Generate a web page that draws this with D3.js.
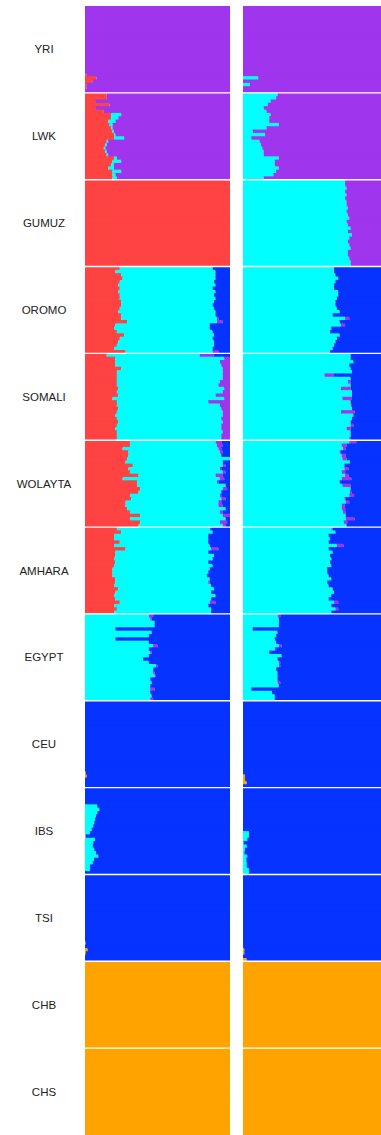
<!DOCTYPE html>
<html>
<head>
<meta charset="utf-8">
<script src="https://cdn.jsdelivr.net/npm/d3@7"></script>
<style>
  html, body { margin: 0; padding: 0; background: #fff; }
  svg { display: block; }
</style>
</head>
<body>
<svg id="chart"></svg>
<script>
// population labels, top to bottom
const popNames = ["YRI", "LWK", "GUMUZ", "OROMO", "SOMALI", "WOLAYTA", "AMHARA",
  "EGYPT", "CEU", "IBS", "TSI", "CHB", "CHS"];

const ancestryColors = {
  orange: "#ffa300",
  red: "#ff4242",
  cyan: "#00ffff",
  purple: "#a035ee",
  blue: "#0633ff",
};

// left panel: [orange, red, cyan, purple, blue] in %
const leftKeys = ["orange", "red", "cyan", "purple", "blue"];

const yriLeft = [
  [0,0,0,100,0],[0,0,0,100,0],[0,0,0,100,0],[0,0,0,100,0],[0,0,0,100,0],[0,0,0,100,0],
  [0,0,0,100,0],[0,0,0,100,0],[0,0,0,100,0],[0,0,0,100,0],[0,0,0,100,0],[0,0,0,100,0],
  [0,0,0,100,0],[0,0,0,100,0],[0,0,0,100,0],[0,0,0,100,0],[0,0,0,100,0],[0,0,0,100,0],
  [0,0,0,100,0],[0,0,0,100,0],[0,1,0,99,0],[0,8,0,92,0],[0,5,0,95,0],[0,1,0,99,0],
  [0,1,0,99,0],[0,0,0,100,0]
];
const lwkLeft = [
  [0,15,0,85,0],[0,15,0,85,0],[0,7,0,93,0],[0,17,0,83,0],[0,7,0,93,0],[0,13,0,87,0],
  [0,18,7,75,0],[0,18,5,77,0],[0,16,5,79,0],[0,17,2,81,0],[0,18,1,81,0],[0,19,1,80,0],
  [0,20,1,79,0],[0,20,7,73,0],[0,15,1,84,0],[0,14,1,85,0],[0,13,1,86,0],[0,14,1,85,0],
  [0,15,1,84,0],[0,20,2,78,0],[0,19,6,75,0],[0,18,2,80,0],[0,16,4,80,0],[0,19,6,75,0],
  [0,19,2,79,0],[0,19,3,78,0]
];
const gumuzLeft = [
  [0,100,0,0,0],[0,100,0,0,0],[0,100,0,0,0],[0,100,0,0,0],[0,100,0,0,0],[0,100,0,0,0],
  [0,100,0,0,0],[0,100,0,0,0],[0,100,0,0,0],[0,100,0,0,0],[0,100,0,0,0],[0,100,0,0,0],
  [0,100,0,0,0],[0,100,0,0,0],[0,100,0,0,0],[0,100,0,0,0],[0,100,0,0,0],[0,100,0,0,0],
  [0,100,0,0,0],[0,100,0,0,0],[0,100,0,0,0],[0,100,0,0,0],[0,100,0,0,0],[0,100,0,0,0],
  [0,100,0,0,0],[0,100,0,0,0]
];
const oromoLeft = [
  [0,24,64,0,12],[0,21,69,0,10],[0,25,65,0,10],[0,26,64,0,10],[0,24,65,0,11],[0,23,67,0,10],
  [0,24,64,0,12],[0,23,67,0,10],[0,24,65,0,11],[0,24,66,0,10],[0,25,64,0,11],[0,25,63,0,12],
  [0,24,65,0,11],[0,23,67,0,10],[0,25,65,0,10],[0,25,66,1,8],[0,29,62,4,5],[0,21,65,0,14],
  [0,20,66,0,14],[0,22,66,0,12],[0,27,62,0,11],[0,24,64,0,12],[0,23,66,0,11],[0,22,67,0,11],
  [0,20,68,0,12],[0,28,60,4,8]
];
const somaliLeft = [
  [0,15,64,10,11],[0,21,75,4,0],[0,21,72,7,0],[0,21,73,6,0],[0,25,70,5,0],[0,22,73,5,0],
  [0,22,73,5,0],[0,22,73,5,0],[0,22,71,7,0],[0,22,70,8,0],[0,23,73,4,0],[0,22,73,5,0],
  [0,23,67,10,0],[0,19,77,4,0],[0,22,63,15,0],[0,22,71,7,0],[0,23,71,6,0],[0,22,73,5,0],
  [0,21,74,5,0],[0,22,72,6,0],[0,23,72,5,0],[0,22,72,6,0],[0,21,73,6,0],[0,22,73,5,0],
  [0,22,72,6,0],[0,22,72,6,0]
];
const wolaytaLeft = [
  [0,31,59,4,6],[0,31,60,4,5],[0,26,66,2,6],[0,30,63,2,5],[0,30,64,0,6],[0,29,71,0,0],
  [0,28,67,0,5],[0,33,62,2,3],[0,30,63,1,6],[0,31,64,2,3],[0,37,53,5,5],[0,26,67,3,4],
  [0,36,55,1,8],[0,36,61,0,3],[0,38,57,3,2],[0,37,57,0,6],[0,31,62,1,6],[0,32,62,3,3],
  [0,28,64,2,6],[0,28,64,3,5],[0,29,68,0,3],[0,31,62,2,5],[0,38,57,5,0],[0,31,66,0,3],
  [0,38,55,5,2],[0,37,58,2,3]
];
const amharaLeft = [
  [0,22,64,1,13],[0,25,63,0,12],[0,20,65,0,15],[0,20,65,0,15],[0,24,61,0,15],[0,20,66,0,14],
  [0,28,59,5,8],[0,21,64,0,15],[0,21,68,0,11],[0,20,68,0,12],[0,21,64,0,15],[0,20,68,0,12],
  [0,19,67,0,14],[0,19,66,0,15],[0,19,65,0,16],[0,21,65,0,14],[0,21,64,1,14],[0,20,67,0,13],
  [0,23,66,0,11],[0,21,66,0,13],[0,20,70,0,10],[0,21,66,0,13],[0,24,62,4,10],[0,20,65,0,15],
  [0,22,65,0,13],[0,20,67,0,13]
];
const egyptLeft = [
  [0,0,44,3,53],[0,0,45,1,54],[0,0,48,0,52],[0,0,48,0,52],[0,0,21,0,79],[0,0,46,0,54],
  [0,0,44,0,56],[0,0,21,0,79],[0,0,44,0,56],[0,0,47,3,50],[0,0,44,0,56],[0,0,45,1,54],
  [0,0,44,0,56],[0,0,40,0,60],[0,0,44,0,56],[0,0,49,1,50],[0,0,47,0,53],[0,0,47,1,52],
  [0,0,48,1,51],[0,0,45,0,55],[0,0,46,0,54],[0,0,45,0,55],[0,0,45,3,52],[0,0,45,0,55],
  [0,0,46,0,54],[0,0,45,2,53]
];
const ceuLeft = [
  [0,0,0,0,100],[0,0,0,0,100],[0,0,0,0,100],[0,0,0,0,100],[0,0,0,0,100],[0,0,0,0,100],
  [0,0,0,0,100],[0,0,0,0,100],[0,0,0,0,100],[0,0,0,0,100],[0,0,0,0,100],[0,0,0,0,100],
  [0,0,0,0,100],[0,0,0,0,100],[0,0,0,0,100],[0,0,0,0,100],[0,0,0,0,100],[0,0,0,0,100],
  [0,0,0,0,100],[0,0,0,0,100],[0,0,0,0,100],[0.5,0,0,0,99.5],[1.2,0,0,0,98.8],[0,0,0,0,100],
  [0,0,0,0,100],[0,0,0,0,100]
];
const ibsLeft = [
  [0,0,0,0,100],[0,0,0,0,100],[0,0,0,0,100],[0,0,0,0,100],[0,0,0,0,100],[0,0,8.5,0,91.5],
  [0,0,9.9,0,90.1],[0,0,8.5,0,91.5],[0,0,7.6,0,92.4],[0,0,6.9,0,93.1],[0,0,6.4,0,93.6],[0,0,5.7,0,94.3],
  [0,0,4.6,0,95.4],[0,0,3.4,0,96.6],[0.5,0,0,0,99.5],[0,0,6.9,0,93.1],[0,0,5.7,0,94.3],[0,0,5.3,0,94.7],
  [0,0,6.4,0,93.6],[0,0,7.6,0,92.4],[0,0,9.2,0,90.8],[0,0,6.2,0,93.8],[0,0,5.3,0,94.7],[0,0,3.4,0,96.6],
  [0,0,3.4,0,96.6],[0,0,0,0,100]
];
const tsiLeft = [
  [0,0,0,0,100],[0,0,0,0,100],[0,0,0,0,100],[0,0,0,0,100],[0,0,0,0,100],[0,0,0,0,100],
  [0,0,0,0,100],[0,0,0,0,100],[0,0,0,0,100],[0,0,0,0,100],[0,0,0,0,100],[0,0,0,0,100],
  [0,0,0,0,100],[0,0,0,0,100],[0,0,0,0,100],[0,0,0,0,100],[0,0,0,0,100],[0,0,0,0,100],
  [0,0,0,0,100],[0,0,0,0,100],[0.5,0,0,0,99.5],[0,0,0,0,100],[1.8,0,0,0,98.2],[0.5,0,0,0,99.5],
  [0,0,0,0,100],[0,0,0,0,100]
];
const chbLeft = [
  [100,0,0,0,0],[100,0,0,0,0],[100,0,0,0,0],[100,0,0,0,0],[100,0,0,0,0],[100,0,0,0,0],
  [100,0,0,0,0],[100,0,0,0,0],[100,0,0,0,0],[100,0,0,0,0],[100,0,0,0,0],[100,0,0,0,0],
  [100,0,0,0,0],[100,0,0,0,0],[100,0,0,0,0],[100,0,0,0,0],[100,0,0,0,0],[100,0,0,0,0],
  [100,0,0,0,0],[100,0,0,0,0],[100,0,0,0,0],[100,0,0,0,0],[100,0,0,0,0],[100,0,0,0,0],
  [100,0,0,0,0],[100,0,0,0,0]
];
const chsLeft = [
  [100,0,0,0,0],[100,0,0,0,0],[100,0,0,0,0],[100,0,0,0,0],[100,0,0,0,0],[100,0,0,0,0],
  [100,0,0,0,0],[100,0,0,0,0],[100,0,0,0,0],[100,0,0,0,0],[100,0,0,0,0],[100,0,0,0,0],
  [100,0,0,0,0],[100,0,0,0,0],[100,0,0,0,0],[100,0,0,0,0],[100,0,0,0,0],[100,0,0,0,0],
  [100,0,0,0,0],[100,0,0,0,0],[100,0,0,0,0],[100,0,0,0,0],[100,0,0,0,0],[100,0,0,0,0],
  [100,0,0,0,0],[100,0,0,0,0]
];

// right panel: [orange, cyan, purple, blue] in %
const rightKeys = ["orange", "cyan", "purple", "blue"];

const yriRight = [
  [0,0,100,0],[0,0,100,0],[0,0,100,0],[0,0,100,0],[0,0,100,0],[0,0,100,0],
  [0,0,100,0],[0,0,100,0],[0,0,100,0],[0,0,100,0],[0,0,100,0],[0,0,100,0],
  [0,0,100,0],[0,0,100,0],[0,0,100,0],[0,0,100,0],[0,0,100,0],[0,0,100,0],
  [0,0,100,0],[0,0,100,0],[0,0,100,0],[0,11,89,0],[0,0,100,0],[0,5,95,0],
  [0,0,100,0],[0,0,100,0]
];
const lwkRight = [
  [0,25,75,0],[0,24,76,0],[0,20,80,0],[0,18,82,0],[0,15,85,0],[0,17,83,0],
  [0,20,80,0],[0,19,81,0],[0,19,81,0],[0,26,74,0],[0,17,83,0],[0,7,93,0],
  [0,16,84,0],[0,6,94,0],[0,12,88,0],[0,13,87,0],[0,14,86,0],[0,15,85,0],
  [0,15,85,0],[0,26,74,0],[0,23,77,0],[0,23,77,0],[0,26,74,0],[0,24,76,0],
  [0,22,78,0],[0,15,85,0]
];
const gumuzRight = [
  [0,74,26,0],[0,74,26,0],[0,75,25,0],[0,74,26,0],[0,75,25,0],[0,74,26,0],
  [0,75,25,0],[0,75,25,0],[0,76,24,0],[0,75,25,0],[0,76,24,0],[0,77,23,0],
  [0,75,25,0],[0,76,24,0],[0,78,22,0],[0,76,24,0],[0,79,21,0],[0,77,23,0],
  [0,76,24,0],[0,77,23,0],[0,78,22,0],[0,76,24,0],[0,76,24,0],[0,77,23,0],
  [0,78,22,0],[0,78,22,0]
];
const oromoRight = [
  [0,66,0,34],[0,66,0,34],[0,67,0,33],[0,69,0,31],[0,67,0,33],[0,66,0,34],
  [0,66,0,34],[0,69,0,31],[0,69,0,31],[0,68,0,32],[0,67,0,33],[0,67,0,33],
  [0,68,0,32],[0,70,0,30],[0,65,0,35],[0,74,3,23],[0,70,0,30],[0,71,3,26],
  [0,64,0,36],[0,63,0,37],[0,70,0,30],[0,68,0,32],[0,67,0,33],[0,66,0,34],
  [0,65,0,35],[0,63,0,37]
];
const somaliRight = [
  [0,78,0,22],[0,78,0,22],[0,80,0,20],[0,77,0,23],[0,78,0,22],[0,79,0,21],
  [0,59,7,34],[0,78,0,22],[0,76,2,22],[0,78,0,22],[0,71,7,22],[0,79,0,21],
  [0,79,0,21],[0,72,7,21],[0,78,0,22],[0,78,1,21],[0,79,0,21],[0,71,10,19],
  [0,80,0,20],[0,79,0,21],[0,78,0,22],[0,78,2,20],[0,75,3,22],[0,78,0,22],
  [0,78,0,22],[0,77,1,22]
];
const wolaytaRight = [
  [0,77,5,18],[0,71.5,3.5,25],[0,72.5,2,25.5],[0,70,1,29],[0,71.5,3,25.5],[0,72,3,25],
  [0,77.5,0,22.5],[0,73.5,0,26.5],[0,73.5,3,23.5],[0,71.5,2.5,26],[0,74,2.5,23.5],[0,71.5,7,21.5],
  [0,70,0,30],[0,72,6,22],[0,78,0,22],[0,77.5,1,21.5],[0,77,3.5,19.5],[0,73.5,1,25.5],
  [0,74.5,2.5,23],[0,71.5,2,26.5],[0,71.5,2.5,26],[0,72.5,2,25.5],[0,74.5,0,25.5],[0,74.5,6.5,19],
  [0,73,2.5,24.5],[0,75,0,25]
];
const amharaRight = [
  [0,64,1,35],[0,67,0,33],[0,62,0,38],[0,63,0,37],[0,62,0,38],[0,68,5,27],
  [0,62,0,38],[0,65,0,35],[0,63,0,37],[0,64,0,36],[0,63,0,37],[0,64,0,36],
  [0,61,0,39],[0,61,0,39],[0,62,0,38],[0,64,0,36],[0,61,0,39],[0,62,0,38],
  [0,65,0,35],[0,66,0,34],[0,64,0,36],[0,62,0,38],[0,66,3,31],[0,64,0,36],
  [0,67,2,31],[0,64,0,36]
];
const egyptRight = [
  [0,25,2,73],[0,26,0,74],[0,26,0,74],[0,26,0,74],[0,7,0,93],[0,25,0,75],
  [0,24,0,76],[0,23,0,77],[0,24,0,76],[0,26,2,72],[0,23,1,76],[0,19,0,81],
  [0,28,0,72],[0,25,0,75],[0,26,1,73],[0,26,1,73],[0,24,0,76],[0,25,0,75],
  [0,25,0,75],[0,25,0,75],[0,25,2,73],[0,26,0,74],[0,6,0,94],[0,21,0,79],
  [0,23,0,77],[0,23,0,77]
];
const ceuRight = [
  [0,0,0,100],[0,0,0,100],[0,0,0,100],[0,0,0,100],[0,0,0,100],[0,0,0,100],
  [0,0,0,100],[0,0,0,100],[0,0,0,100],[0,0,0,100],[0,0,0,100],[0,0,0,100],
  [0,0,0,100],[0,0,0,100],[0,0,0,100],[0,0,0,100],[0,0,0,100],[0,0,0,100],
  [0,0,0,100],[0,0,0,100],[0,0,0,100],[0,0,0,100],[1.5,0,0,98.5],[1.5,0,0,98.5],
  [2.7,0,0,97.3],[0,0,0,100]
];
const ibsRight = [
  [0,0,0,100],[0,0,0,100],[0,0,0,100],[0,0,0,100],[0,0,0,100],[0,0,0,100],
  [0,0,0,100],[0,0,0,100],[0,0,0,100],[0,0,0,100],[0,0,0,100],[0,0,0,100],
  [0,0,0,100],[0,4.3,0,95.7],[0,4.3,0,95.7],[0,3.1,0,96.9],[0,0.5,0,99.5],[0,2.7,0,97.3],
  [0,1.4,0,98.6],[0,1,0,99],[0,3.1,0,96.9],[0,2.4,0,97.6],[0,2.7,0,97.3],[0,2.7,0,97.3],
  [0,4.3,0,95.7],[0,4.3,0,95.7]
];
const tsiRight = [
  [0,0,0,100],[0,0,0,100],[0,0,0,100],[0,0,0,100],[0,0,0,100],[0,0,0,100],
  [0,0,0,100],[0,0,0,100],[0,0,0,100],[0,0,0,100],[0,0,0,100],[0,0,0,100],
  [0,0,0,100],[0,0,0,100],[0,0,0,100],[0,0,0,100],[0,0,0,100],[0,0,0,100],
  [0,0,0,100],[0,0,0,100],[0,0,0,100],[0,0,0,100],[1,0,0,99],[1,0,0,99],
  [0,0,0,100],[2.7,0,0,97.3]
];
const chbRight = [
  [100,0,0,0],[100,0,0,0],[100,0,0,0],[100,0,0,0],[100,0,0,0],[100,0,0,0],
  [100,0,0,0],[100,0,0,0],[100,0,0,0],[100,0,0,0],[100,0,0,0],[100,0,0,0],
  [100,0,0,0],[100,0,0,0],[100,0,0,0],[100,0,0,0],[100,0,0,0],[100,0,0,0],
  [100,0,0,0],[100,0,0,0],[100,0,0,0],[100,0,0,0],[100,0,0,0],[100,0,0,0],
  [100,0,0,0],[100,0,0,0]
];
const chsRight = [
  [100,0,0,0],[100,0,0,0],[100,0,0,0],[100,0,0,0],[100,0,0,0],[100,0,0,0],
  [100,0,0,0],[100,0,0,0],[100,0,0,0],[100,0,0,0],[100,0,0,0],[100,0,0,0],
  [100,0,0,0],[100,0,0,0],[100,0,0,0],[100,0,0,0],[100,0,0,0],[100,0,0,0],
  [100,0,0,0],[100,0,0,0],[100,0,0,0],[100,0,0,0],[100,0,0,0],[100,0,0,0],
  [100,0,0,0],[100,0,0,0]
];

const leftPops = [yriLeft, lwkLeft, gumuzLeft, oromoLeft, somaliLeft, wolaytaLeft, amharaLeft,
  egyptLeft, ceuLeft, ibsLeft, tsiLeft, chbLeft, chsLeft];
const rightPops = [yriRight, lwkRight, gumuzRight, oromoRight, somaliRight, wolaytaRight, amharaRight,
  egyptRight, ceuRight, ibsRight, tsiRight, chbRight, chsRight];

const width = 381;
const height = 1135;

const svg = d3.select("#chart")
  .attr("width", width)
  .attr("height", height);

const y = d3.scaleBand()
  .domain(popNames)
  .range([6, 1135])
  .padding(0);

const xLeft = d3.scaleLinear().domain([0, 100]).range([85, 230]);
const xRight = d3.scaleLinear().domain([0, 100]).range([243, 381]);

const drawPanel = (pops, keys, x, cls) => {
  const panel = svg.append("g").attr("class", cls);

  pops.forEach((rows, i) => {
    const pop = popNames[i];
    const top = y(pop);
    const bottom = top + y.bandwidth();
    const yRow = d3.scaleBand()
      .domain(d3.range(rows.length))
      .range([top, bottom]);

    const records = rows.map((r) => {
      const rec = {};
      keys.forEach((k, j) => { rec[k] = r[j]; });
      return rec;
    });
    const series = d3.stack().keys(keys)(records);

    // segments ordered row by row so each row paints over the overlap of the one above
    const segments = [];
    records.forEach((_, j) => {
      series.forEach((s) => {
        const x0 = s[j][0];
        const x1 = Math.min(s[j][1], 100);
        if (x1 > x0) segments.push({ key: s.key, row: j, x0, x1 });
      });
    });

    panel.append("g")
      .attr("class", "pop")
      .selectAll("rect")
      .data(segments)
      .join("rect")
      .attr("x", (d) => x(d.x0))
      .attr("width", (d) => x(d.x1) - x(d.x0))
      .attr("y", (d) => yRow(d.row))
      .attr("height", (d) =>
        d.row === rows.length - 1 ? yRow.bandwidth() : yRow.bandwidth() + 1)
      .attr("fill", (d) => ancestryColors[d.key]);
  });

  // white separators between populations
  panel.selectAll(".sep")
    .data(popNames.slice(1))
    .join("line")
    .attr("class", "sep")
    .attr("x1", x(0))
    .attr("x2", x(100))
    .attr("y1", (d) => y(d))
    .attr("y2", (d) => y(d))
    .style("stroke", "#fff")
    .style("stroke-width", 1.4);
};

drawPanel(leftPops, leftKeys, xLeft, "left-panel");
drawPanel(rightPops, rightKeys, xRight, "right-panel");

svg.append("g")
  .attr("class", "labels")
  .selectAll("text")
  .data(popNames)
  .join("text")
  .attr("x", 44)
  .attr("y", (d) => y(d) + y.bandwidth() / 2 + 4)
  .attr("text-anchor", "middle")
  .style("font-family", "'Liberation Sans', Arial, sans-serif")
  .style("font-size", "11.5px")
  .style("fill", "#222")
  .text((d) => d);
</script>
</body>
</html>
